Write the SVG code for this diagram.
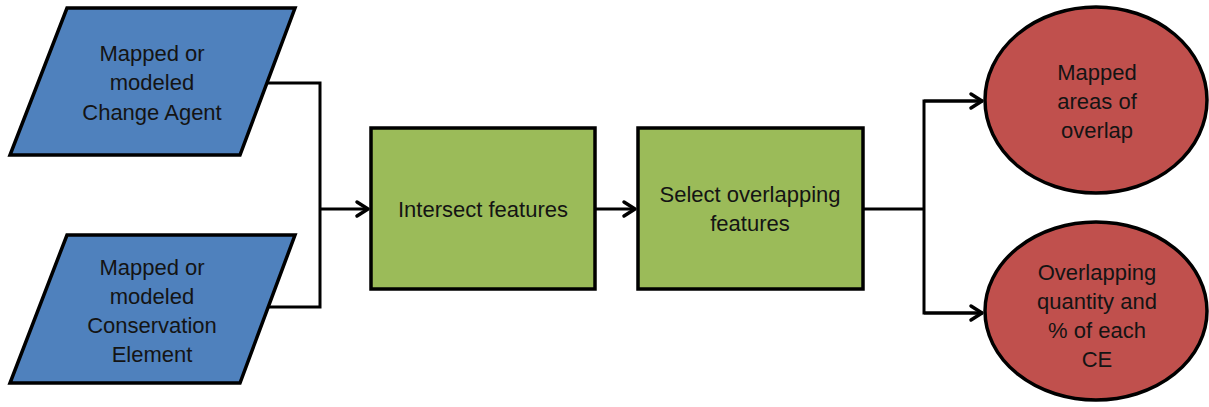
<svg xmlns="http://www.w3.org/2000/svg" width="1209" height="407" viewBox="0 0 1209 407">
  <style>
    .input { fill: #4F81BD; stroke: #000; stroke-width: 3.5; stroke-linejoin: miter; }
    .proc { fill: #9BBB59; stroke: #000; stroke-width: 3.5; }
    .out { fill: #C0504D; stroke: #000; stroke-width: 3.5; }
    .lbl { font-family: "Liberation Sans", Arial, sans-serif; font-size: 22px; fill: #141414; text-anchor: middle; }
    .conn { fill: none; stroke: #000; stroke-width: 3; }
  </style>
  <defs>
    <marker id="arr" viewBox="-14 -10 17 20" refX="0" refY="0" markerWidth="17" markerHeight="20" markerUnits="userSpaceOnUse" orient="auto">
      <path d="M-11,-7 L0,0 L-11,7" fill="none" stroke="#000" stroke-width="3.5" stroke-linecap="round" stroke-linejoin="round"/>
    </marker>
  </defs>
  <rect width="1209" height="407" fill="#fff"/>

  <g id="connectors">
    <path class="conn" d="M267,83 H320 V307 H268"/>
    <path class="conn" d="M320,209 H368" marker-end="url(#arr)"/>
    <path class="conn" d="M595,209 H635" marker-end="url(#arr)"/>
    <path class="conn" d="M863,209 H924"/>
    <path class="conn" d="M983,101 H924 V313 H983"/>
    <path class="conn" d="M924,101 H982" marker-end="url(#arr)"/>
    <path class="conn" d="M924,313 H982" marker-end="url(#arr)"/>
  </g>

  <g id="change-agent">
    <polygon class="input" points="67,8 295,8 240,155 10,155"/>
    <text class="lbl" x="152" y="61">Mapped or</text>
    <text class="lbl" x="152" y="90">modeled</text>
    <text class="lbl" x="152" y="120">Change Agent</text>
  </g>

  <g id="conservation-element">
    <polygon class="input" points="67,235 295,235 240,383 10,383"/>
    <text class="lbl" x="152" y="275">Mapped or</text>
    <text class="lbl" x="152" y="304">modeled</text>
    <text class="lbl" x="152" y="333">Conservation</text>
    <text class="lbl" x="152" y="362">Element</text>
  </g>

  <g id="intersect">
    <rect class="proc" x="371" y="128" width="224" height="161"/>
    <text class="lbl" x="483" y="217">Intersect features</text>
  </g>

  <g id="select">
    <rect class="proc" x="638" y="128" width="225" height="161"/>
    <text class="lbl" x="750" y="202">Select overlapping</text>
    <text class="lbl" x="750" y="231">features</text>
  </g>

  <g id="mapped-areas">
    <ellipse class="out" cx="1096" cy="100" rx="111" ry="93"/>
    <text class="lbl" x="1097" y="80">Mapped</text>
    <text class="lbl" x="1097" y="109">areas of</text>
    <text class="lbl" x="1097" y="138">overlap</text>
  </g>

  <g id="overlap-quantity">
    <ellipse class="out" cx="1096" cy="311" rx="111" ry="89"/>
    <text class="lbl" x="1097" y="280">Overlapping</text>
    <text class="lbl" x="1097" y="309">quantity and</text>
    <text class="lbl" x="1097" y="338">% of each</text>
    <text class="lbl" x="1097" y="367">CE</text>
  </g>
</svg>
